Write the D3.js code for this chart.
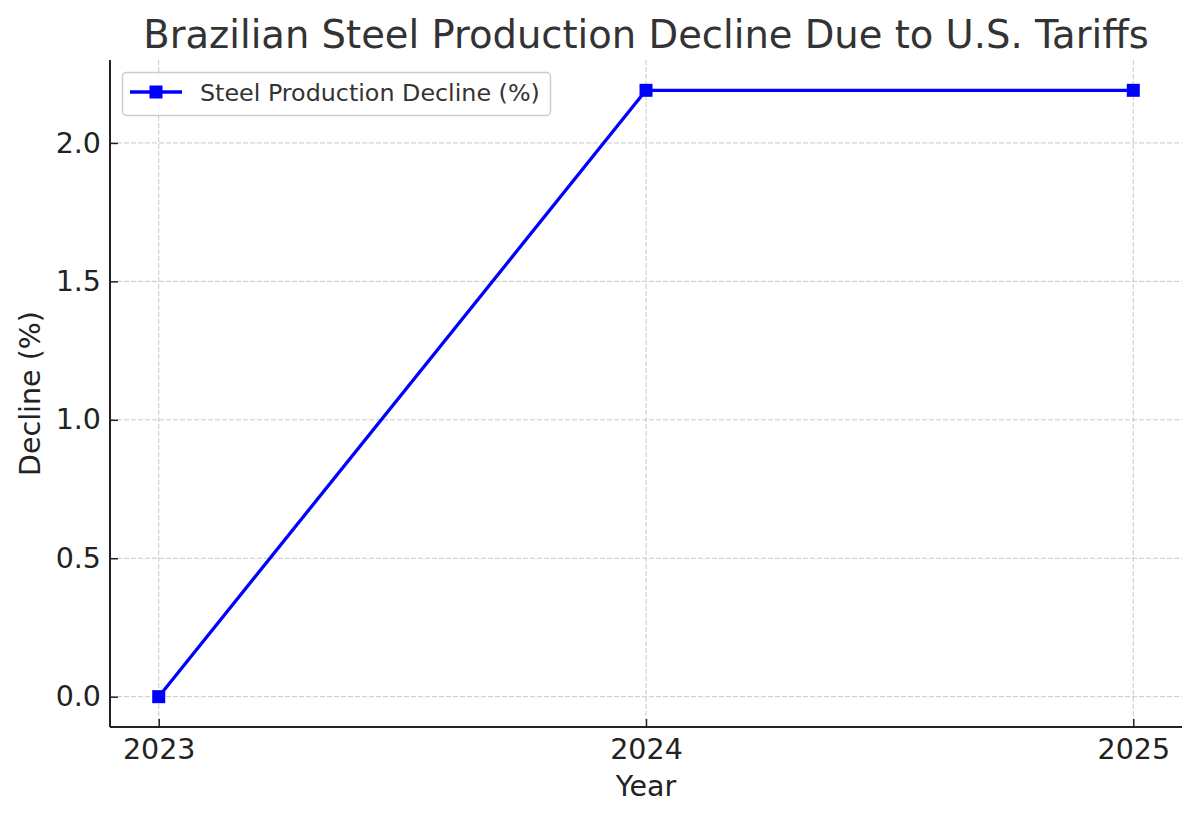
<!DOCTYPE html>
<html>
<head>
<meta charset="utf-8">
<script src="https://cdn.jsdelivr.net/npm/d3@7"></script>
<style>
    body { margin: 0; background: #fff; }
    text { font-family: "DejaVu Sans", sans-serif; }
</style>
</head>
<body>
<div id="chart"></div>
<script>
// data
let years = [2023, 2024, 2025];
let decline = [0.0, 2.19, 2.19];
let yTicks = [0.0, 0.5, 1.0, 1.5, 2.0];
let seriesName = "Steel Production Decline (%)";

let width = 1200, height = 819;
let margin = { top: 60, right: 18, bottom: 92, left: 110 };

let svg = d3.select("#chart")
    .append("svg")
    .attr("width", width)
    .attr("height", height);

// matplotlib style 5% padding on both axes
let xPad = (d3.max(years) - d3.min(years)) * 0.05;
let yPad = (d3.max(decline) - d3.min(decline)) * 0.05;

let x = d3.scaleLinear()
    .domain([d3.min(years) - xPad, d3.max(years) + xPad])
    .range([margin.left, width - margin.right]);

let y = d3.scaleLinear()
    .domain([d3.min(decline) - yPad, d3.max(decline) + yPad])
    .range([height - margin.bottom, margin.top]);

let plotBottom = height - margin.bottom;

// grid
svg.append("g")
    .selectAll("line")
    .data(years)
    .enter()
    .append("line")
    .attr("x1", d => x(d)).attr("x2", d => x(d))
    .attr("y1", margin.top).attr("y2", plotBottom)
    .attr("stroke", "#c8c8c8")
    .attr("stroke-width", 1)
    .attr("stroke-dasharray", "5,2");

svg.append("g")
    .selectAll("line")
    .data(yTicks)
    .enter()
    .append("line")
    .attr("x1", margin.left).attr("x2", width - margin.right)
    .attr("y1", d => y(d)).attr("y2", d => y(d))
    .attr("stroke", "#c8c8c8")
    .attr("stroke-width", 1)
    .attr("stroke-dasharray", "5,2");

// axes (ticks point inward, only left and bottom spines)
let xAxis = svg.append("g")
    .attr("transform", "translate(0," + plotBottom + ")")
    .call(d3.axisBottom(x).tickValues(years).tickFormat(d3.format("d")).tickSizeInner(-8).tickSizeOuter(0).tickPadding(12));

let yAxis = svg.append("g")
    .attr("transform", "translate(" + margin.left + ",0)")
    .call(d3.axisLeft(y).tickValues(yTicks).tickFormat(d3.format(".1f")).tickSizeInner(-8).tickSizeOuter(0).tickPadding(10));

[xAxis, yAxis].forEach(function (ax) {
    ax.select(".domain").attr("stroke", "#222").attr("stroke-width", 2);
    ax.selectAll(".tick line").attr("stroke", "#222").attr("stroke-width", 1.5);
    ax.selectAll("text")
        .style("font-size", "28.5px")
        .attr("fill", "#222");
});
// bottom spine spans full width
xAxis.select(".domain").attr("d", "M" + margin.left + ",0H" + (width - margin.right));
yAxis.select(".domain").attr("d", "M0," + margin.top + "V" + plotBottom);
yAxis.selectAll(".tick text").attr("x", -9);

// line
let line = d3.line()
    .x((d, i) => x(years[i]))
    .y(d => y(d));

svg.append("path")
    .datum(decline)
    .attr("fill", "none")
    .attr("stroke", "#0000ff")
    .attr("stroke-width", 3.3)
    .attr("stroke-linejoin", "round")
    .attr("d", line);

svg.append("g")
    .selectAll("rect")
    .data(decline)
    .enter()
    .append("rect")
    .attr("x", (d, i) => x(years[i]) - 6.5)
    .attr("y", d => y(d) - 6.5)
    .attr("width", 13)
    .attr("height", 13)
    .attr("fill", "#0000ff");

// title and labels
svg.append("text")
    .attr("x", 646)
    .attr("y", 48)
    .attr("text-anchor", "middle")
    .style("font-size", "38.5px")
    .attr("fill", "#333")
    .text("Brazilian Steel Production Decline Due to U.S. Tariffs");

svg.append("text")
    .attr("x", 646)
    .attr("y", 796)
    .attr("text-anchor", "middle")
    .style("font-size", "28.5px")
    .attr("fill", "#222")
    .text("Year");

svg.append("text")
    .attr("transform", "translate(40," + ((margin.top + plotBottom) / 2) + ") rotate(-90)")
    .attr("text-anchor", "middle")
    .style("font-size", "28.5px")
    .attr("fill", "#222")
    .text("Decline (%)");

// legend
let legend = svg.append("g").attr("transform", "translate(122,72)");
legend.append("rect")
    .attr("x", 0.5).attr("y", 0.5)
    .attr("width", 428).attr("height", 43)
    .attr("rx", 4)
    .attr("fill", "#fff")
    .attr("fill-opacity", 0.8)
    .attr("stroke", "#cccccc")
    .attr("stroke-width", 1.5);
legend.append("line")
    .attr("x1", 8).attr("x2", 60)
    .attr("y1", 20).attr("y2", 20)
    .attr("stroke", "#0000ff")
    .attr("stroke-width", 3.3);
legend.append("rect")
    .attr("x", 27.5).attr("y", 13.5)
    .attr("width", 13).attr("height", 13)
    .attr("fill", "#0000ff");
legend.append("text")
    .attr("x", 78)
    .attr("y", 29)
    .style("font-size", "23.8px")
    .attr("fill", "#333")
    .text(seriesName);
</script>
</body>
</html>
